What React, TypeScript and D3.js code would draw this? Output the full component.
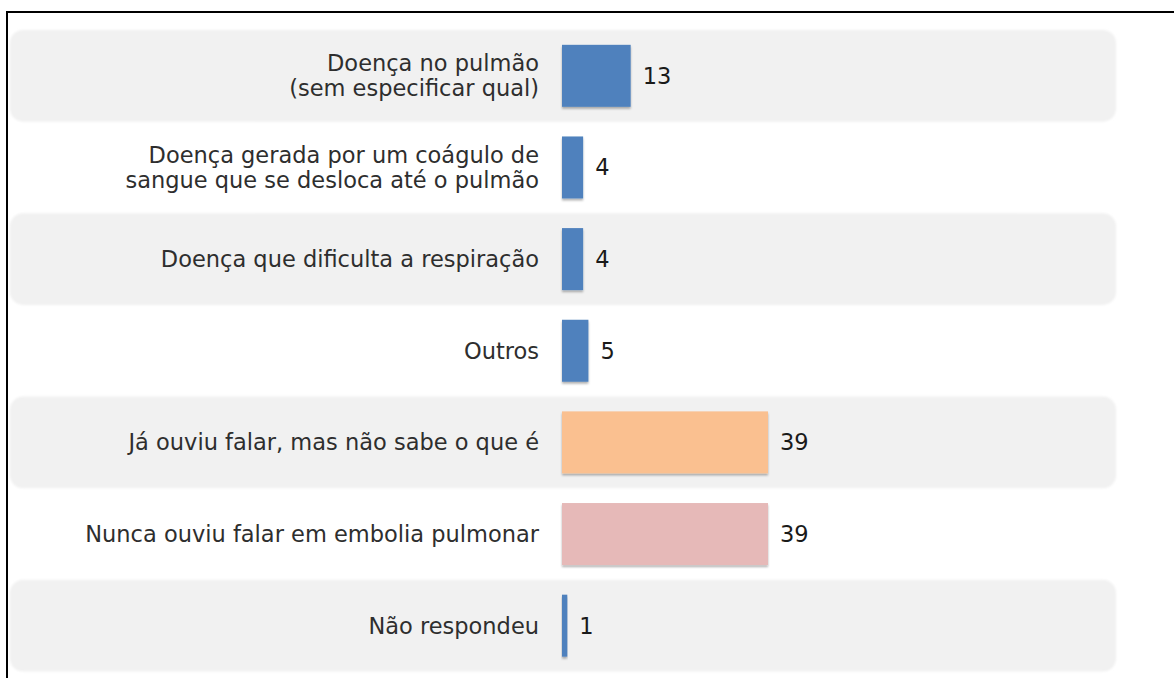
import React from "react";
import * as d3 from "d3";

const categories: string[][] = [
  ["Doença no pulmão", "(sem especificar qual)"],
  ["Doença gerada por um coágulo de", "sangue que se desloca até o pulmão"],
  ["Doença que dificulta a respiração"],
  ["Outros"],
  ["Já ouviu falar, mas não sabe o que é"],
  ["Nunca ouviu falar em embolia pulmonar"],
  ["Não respondeu"],
];
const values: number[] = [13, 4, 4, 5, 39, 39, 1];
const colors: string[] = ["#4f81bd", "#4f81bd", "#4f81bd", "#4f81bd", "#fac090", "#e6b9b8", "#4f81bd"];

const W = 1174;
const H = 678;

export default function App() {
  const keys = categories.map((_, i) => String(i));
  const y = d3.scaleBand<string>().domain(keys).range([30, 671.5]).padding(0);
  const x = d3.scaleLinear().domain([0, 39]).range([562, 768]);
  const bw = y.bandwidth();
  const barH = 62;
  const fontSize = 22.5;
  const lineH = 25;

  return (
    <div style={{ position: "absolute", left: 0, top: 0 }}>
      <svg width={W} height={H} style={{ display: "block" }} fontFamily="'DejaVu Sans', Verdana, sans-serif">
        <defs>
          <filter id="sh" x="-10%" y="-10%" width="120%" height="130%">
            <feDropShadow dx="0" dy="2" stdDeviation="1" floodColor="#000" floodOpacity="0.3" />
          </filter>
          <filter id="soft" x="-2%" y="-5%" width="104%" height="110%">
            <feGaussianBlur stdDeviation="0.8" />
          </filter>
        </defs>
        <rect x={0} y={0} width={W} height={H} fill="#fff" />
        {keys.map((k, i) =>
          i % 2 === 0 ? (
            <rect key={"band" + k} x={10} y={y(k)!} width={1106} height={bw} rx={13} ry={13} fill="#f1f1f1" filter="url(#soft)" />
          ) : null
        )}
        <line x1={7} y1={12} x2={W} y2={12} stroke="#000" strokeWidth={2} />
        <line x1={7} y1={11} x2={7} y2={H} stroke="#000" strokeWidth={2} />
        {keys.map((k, i) => {
          const cy = y(k)! + bw / 2;
          const lines = categories[i];
          const n = lines.length;
          const firstBaseline = cy + 8 - ((n - 1) * lineH) / 2;
          return (
            <g key={"row" + k}>
              <rect
                x={x(0)}
                y={cy - barH / 2}
                width={Math.max(3, x(values[i]) - x(0))}
                height={barH}
                fill={colors[i]}
                filter="url(#sh)"
              />
              <text textAnchor="end" fontSize={fontSize} fill="#2e2e2e">
                {lines.map((l, j) => (
                  <tspan key={j} x={539} y={firstBaseline + j * lineH}>
                    {l}
                  </tspan>
                ))}
              </text>
              <text x={x(values[i]) + 12} y={cy + 8} fontSize={fontSize} fill="#1a1a1a">
                {values[i]}
              </text>
            </g>
          );
        })}
      </svg>
    </div>
  );
}
